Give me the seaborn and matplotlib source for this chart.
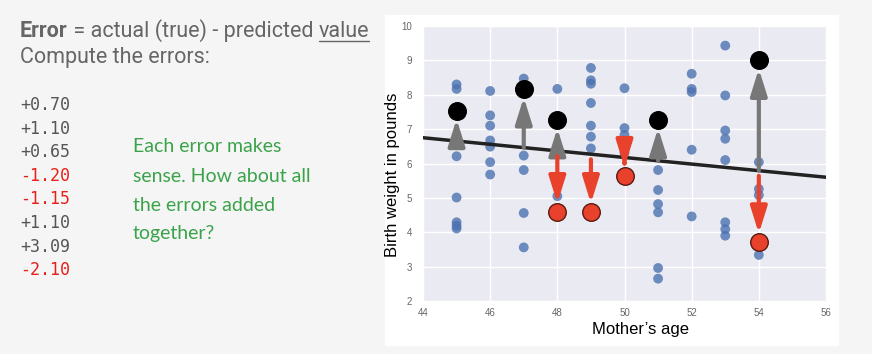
import matplotlib
matplotlib.use("Agg")
import matplotlib.pyplot as plt
from matplotlib.lines import Line2D
from matplotlib.patches import Rectangle
import seaborn as sns
import pandas as pd
import numpy as np

# mother's age vs birth weight (all observations)
ages = [45, 45, 45, 45, 45, 45, 45,
        46, 46, 46, 46, 46, 46, 46,
        47, 47, 47, 47, 47, 47,
        48, 48, 48,
        49, 49, 49, 49, 49, 49, 49,
        50, 50, 50, 50,
        51, 51, 51, 51, 51, 51, 51,
        52, 52, 52, 52, 52,
        53, 53, 53, 53, 53, 53, 53, 53,
        54, 54, 54, 54, 54]
weights = [8.30, 8.17, 6.21, 5.01, 4.29, 4.19, 4.11,
           8.11, 7.40, 7.10, 6.67, 6.49, 6.04, 5.68,
           8.47, 7.25, 6.23, 5.81, 4.56, 3.56,
           8.17, 5.50, 5.05,
           8.78, 8.42, 8.32, 7.76, 7.10, 6.78, 6.44,
           8.19, 7.03, 6.83, 6.31,
           6.28, 5.81, 5.23, 4.82, 4.58, 2.96, 2.65,
           8.61, 8.17, 8.08, 6.40, 4.46,
           9.43, 7.98, 6.96, 6.72, 6.10, 4.29, 4.09, 3.90,
           6.04, 5.26, 5.08, 4.56, 3.34]

# highlighted points above / below the fitted line
above_x = [45, 47, 48, 51, 54]
above_y = [7.54, 8.17, 7.27, 7.27, 9.00]
below_x = [48, 49, 50, 54]
below_y = [4.60, 4.60, 5.65, 3.72]

# fitted line end points
line_x = [44, 56]
line_y = [6.75, 5.60]

error_labels = ["+0.70", "+1.10", "+0.65", "-1.20", "-1.15", "+1.10", "+3.09", "-2.10"]

sns.set_theme(style="darkgrid")
plt.rcParams["font.family"] = ["Liberation Sans", "DejaVu Sans"]

W, H = 872, 354
fig = plt.figure(figsize=(W / 100, H / 100), dpi=100)
fig.patch.set_facecolor("#f5f5f5")
fig.add_artist(Rectangle((385 / W, 1 - 345 / H), (838 - 385) / W, (345 - 15) / H,
                         transform=fig.transFigure, color="white", zorder=0))

ax = fig.add_axes([423 / W, 1 - 301 / H, (826 - 423) / W, (301 - 26) / H])
ax.set_facecolor("#eaeaf2")

df = pd.DataFrame({"age": ages, "weight": weights})
sns.scatterplot(data=df, x="age", y="weight", ax=ax, color="#4c72b0", alpha=0.8,
                s=50, edgecolor="none", zorder=2)
sns.lineplot(x=line_x, y=line_y, ax=ax, color="#222222", lw=2.5, zorder=3)

grey = "#777777"
red = "#e8412c"
for x, y in zip(above_x, above_y):
    y0 = np.interp(x, line_x, line_y)
    ax.annotate("", xy=(x, y), xytext=(x, y0),
                arrowprops=dict(arrowstyle="-|>,head_length=0.8,head_width=0.25",
                                mutation_scale=20, lw=3, color=grey,
                                shrinkA=0, shrinkB=6), zorder=4)
for x, y in zip(below_x, below_y):
    y0 = np.interp(x, line_x, line_y) - 0.15
    ax.annotate("", xy=(x, y), xytext=(x, y0),
                arrowprops=dict(arrowstyle="-|>,head_length=0.8,head_width=0.25",
                                mutation_scale=20, lw=3, color=red,
                                shrinkA=0, shrinkB=6), zorder=4)

sns.scatterplot(x=above_x, y=above_y, ax=ax, color="black", s=160,
                edgecolor="black", zorder=5)
sns.scatterplot(x=below_x, y=below_y, ax=ax, color=red, s=160,
                edgecolor="#5a1a10", linewidth=1, zorder=5)

ax.set_xlim(44, 56)
ax.set_ylim(2, 10)
ax.set_xticks(range(44, 57, 2))
ax.set_yticks(range(2, 11))
ax.tick_params(labelsize=7, labelcolor="#666666")
ax.tick_params(axis="x", pad=-1)
ax.tick_params(axis="y", pad=2)
ax.set_xlabel("Mother’s age", fontsize=12, color="black")
ax.set_ylabel("Birth weight in pounds", fontsize=12, color="black")
ax.xaxis.set_label_coords(0.54, -0.075)
ax.yaxis.set_label_coords(-0.057, 0.458)
for sp in ax.spines.values():
    sp.set_visible(False)

# left text block
txt_col = "#666666"
fs = 15.5
t1 = fig.text(20 / W, 1 - 37 / H, "Error", fontsize=fs, color=txt_col,
              fontweight="bold", family="Roboto", va="baseline")
fig.canvas.draw()
r = fig.canvas.get_renderer()
x1 = t1.get_window_extent(r).x1
t2 = fig.text(x1 / W, 1 - 37 / H, " = actual (true) - predicted ", fontsize=fs,
              color=txt_col, family="Roboto", va="baseline")
x2 = t2.get_window_extent(r).x1
t3 = fig.text(x2 / W, 1 - 37 / H, "value", fontsize=fs, color=txt_col,
              family="Roboto", va="baseline")
x3 = t3.get_window_extent(r).x1
fig.add_artist(Line2D([x2 / W, x3 / W], [1 - 41 / H, 1 - 41 / H], color=txt_col,
                      lw=1, transform=fig.transFigure))
fig.text(20 / W, 1 - 63 / H, "Compute the errors:", fontsize=fs, color=txt_col,
         family="Roboto", va="baseline")

for i, lab in enumerate(error_labels):
    c = "#e8201a" if lab.startswith("-") else "#555555"
    fig.text(20 / W, 1 - (105 + i * 23.6) / H, lab, fontsize=12, color=c,
             family="DejaVu Sans Mono", va="center")

green_lines = ["Each error makes", "sense. How about all", "the errors added", "together?"]
for i, s in enumerate(green_lines):
    fig.text(133 / W, 1 - (147 + i * 29) / H, s, fontsize=14, color="#3aa34a",
             family="Lato", va="center")

fig.savefig("out.png", dpi=100, facecolor=fig.get_facecolor())
